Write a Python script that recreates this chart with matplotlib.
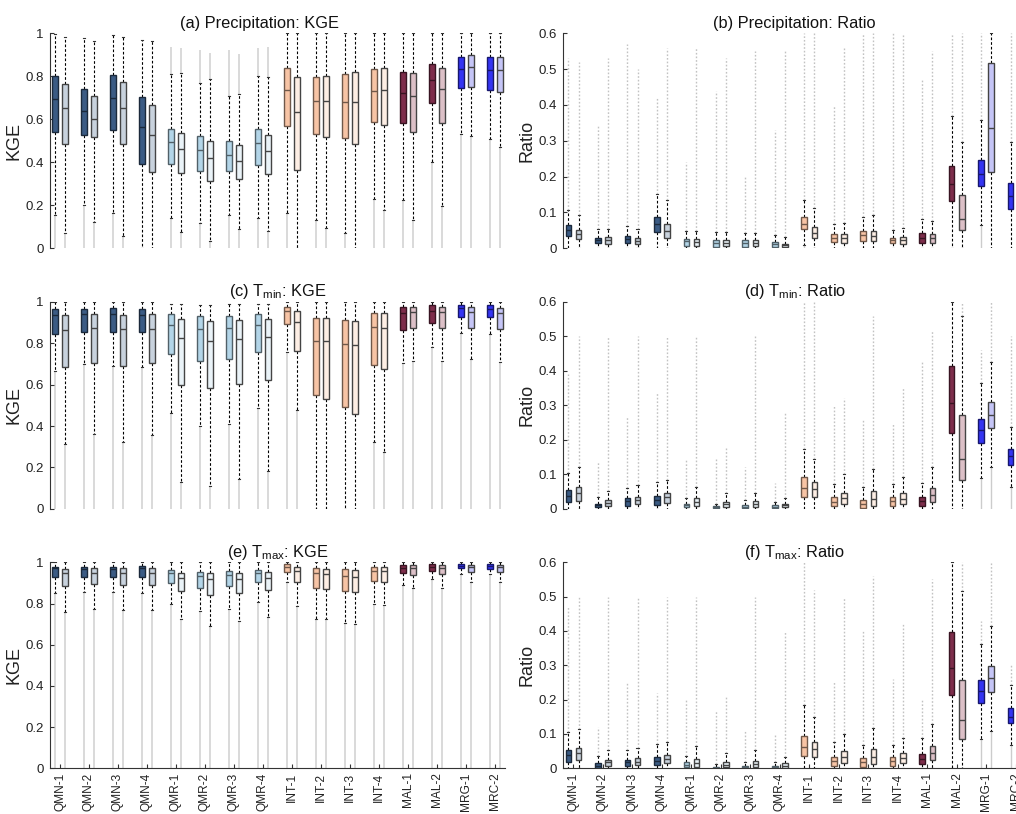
import matplotlib
matplotlib.use('Agg')
import matplotlib.pyplot as plt
from matplotlib import colors as mcolors

plt.rcParams['font.family'] = ['Liberation Sans', 'DejaVu Sans']
plt.rcParams['mathtext.fontset'] = 'custom'
plt.rcParams['mathtext.rm'] = 'Liberation Sans'
plt.rcParams['mathtext.it'] = 'Liberation Sans:italic'
plt.rcParams['mathtext.bf'] = 'Liberation Sans:bold'

METHODS = ['QMN-1', 'QMN-2', 'QMN-3', 'QMN-4', 'QMR-1', 'QMR-2', 'QMR-3', 'QMR-4',
           'INT-1', 'INT-2', 'INT-3', 'INT-4', 'MAL-1', 'MAL-2', 'MRG-1', 'MRC-2']

DARK_FILL = ['#3b5b84'] * 4 + ['#b3d5e8'] * 4 + ['#f7c4a5'] * 4 + ['#7d2d4b'] * 2 + ['#3434f2'] * 2
LIGHT_FILL = ['#c8d2dd'] * 4 + ['#eaf3f8'] * 4 + ['#fdeee4'] * 4 + ['#dcc0c7'] * 2 + ['#c5c5f6'] * 2

# Each list: 32 values, interleaved (dark box, light box) for each method
# ---------------- (a) Precipitation: KGE
A_Q1 = [0.543, 0.485, 0.527, 0.518, 0.549, 0.485, 0.391, 0.353, 0.392, 0.349, 0.360, 0.313,
        0.361, 0.322, 0.388, 0.347, 0.571, 0.363, 0.530, 0.516, 0.512, 0.484, 0.589, 0.575,
        0.581, 0.540, 0.676, 0.583, 0.747, 0.749, 0.736, 0.726]
A_MED = [0.693, 0.651, 0.639, 0.600, 0.698, 0.653, 0.563, 0.526, 0.493, 0.462, 0.456, 0.419,
         0.434, 0.408, 0.488, 0.453, 0.735, 0.633, 0.687, 0.685, 0.681, 0.679, 0.730, 0.735,
         0.721, 0.709, 0.781, 0.740, 0.833, 0.842, 0.829, 0.829]
A_Q3 = [0.800, 0.763, 0.740, 0.710, 0.806, 0.775, 0.705, 0.665, 0.557, 0.535, 0.522, 0.499,
        0.498, 0.481, 0.553, 0.527, 0.840, 0.795, 0.798, 0.803, 0.809, 0.819, 0.833, 0.840,
        0.819, 0.814, 0.859, 0.840, 0.890, 0.899, 0.890, 0.891]
A_WLO = [0.155, 0.070, 0.200, 0.124, 0.163, 0.057, 0.000, 0.000, 0.143, 0.078, 0.116, 0.034,
         0.155, 0.090, 0.140, 0.082, 0.163, 0.000, 0.132, 0.093, 0.070, 0.000, 0.229, 0.178,
         0.225, 0.130, 0.403, 0.197, 0.532, 0.521, 0.507, 0.473]
A_WHI = [0.995, 0.985, 0.977, 0.964, 0.990, 0.985, 0.967, 0.964, 0.809, 0.817, 0.767, 0.786,
         0.709, 0.718, 0.800, 0.795, 1.0, 1.0, 1.0, 1.0, 1.0, 1.0, 1.0, 1.0,
         1.0, 1.0, 1.0, 1.0, 1.0, 1.0, 1.0, 1.0]
A_OHI = [0.995, 0.985, 0.977, 0.964, 0.990, 0.985, 0.967, 0.964, 0.938, 0.930, 0.922, 0.907,
         0.922, 0.902, 0.930, 0.935, 1.0, 1.0, 1.0, 1.0, 1.0, 1.0, 1.0, 1.0,
         1.0, 1.0, 1.0, 1.0, 1.0, 1.0, 1.0, 1.0]

# ---------------- (b) Precipitation: Ratio
B_Q1 = [0.035, 0.025, 0.014, 0.012, 0.014, 0.012, 0.046, 0.028, 0.0065, 0.0074, 0.0047, 0.0065,
        0.005, 0.0065, 0.004, 0.003, 0.053, 0.028, 0.018, 0.016, 0.021, 0.020, 0.014, 0.011,
        0.016, 0.016, 0.133, 0.051, 0.175, 0.214, 0.109, 0.120]
B_MED = [0.051, 0.039, 0.023, 0.023, 0.026, 0.021, 0.068, 0.048, 0.019, 0.017, 0.014, 0.015,
         0.014, 0.016, 0.011, 0.008, 0.068, 0.042, 0.030, 0.030, 0.037, 0.034, 0.023, 0.023,
         0.030, 0.030, 0.179, 0.082, 0.207, 0.337, 0.146, 0.160]
B_Q3 = [0.064, 0.051, 0.030, 0.032, 0.034, 0.030, 0.087, 0.068, 0.026, 0.027, 0.023, 0.024,
        0.022, 0.024, 0.018, 0.013, 0.087, 0.059, 0.040, 0.040, 0.048, 0.048, 0.030, 0.031,
        0.044, 0.040, 0.230, 0.149, 0.247, 0.518, 0.183, 0.200]
B_WLO = [0.0, 0.0, 0.0, 0.0, 0.0, 0.0, 0.0, 0.0, 0.0, 0.0, 0.0, 0.0,
         0.0, 0.0, 0.0, 0.0, 0.009, 0.0, 0.0, 0.0, 0.0, 0.0, 0.0, 0.0,
         0.0, 0.0, 0.0, 0.0, 0.065, 0.0, 0.0, 0.0]
B_WHI = [0.107, 0.093, 0.053, 0.055, 0.063, 0.053, 0.152, 0.135, 0.049, 0.049, 0.045, 0.045,
         0.044, 0.043, 0.036, 0.031, 0.135, 0.112, 0.067, 0.070, 0.087, 0.093, 0.051, 0.056,
         0.081, 0.076, 0.369, 0.298, 0.358, 0.600, 0.296, 0.320]
B_OHI = [0.53, 0.52, 0.34, 0.53, 0.57, 0.50, 0.42, 0.56, 0.24, 0.56, 0.44, 0.53,
         0.20, 0.55, 0.33, 0.55, 0.60, 0.60, 0.40, 0.56, 0.60, 0.60, 0.60, 0.60,
         0.47, 0.55, 0.60, 0.60, 0.60, 0.60, 0.60, 0.60]

# ---------------- (c) Tmin: KGE
C_Q1 = [0.845, 0.684, 0.856, 0.706, 0.856, 0.689, 0.853, 0.703, 0.750, 0.597, 0.716, 0.584,
        0.723, 0.602, 0.758, 0.623, 0.892, 0.763, 0.548, 0.529, 0.494, 0.458, 0.695, 0.676,
        0.865, 0.873, 0.900, 0.876, 0.929, 0.876, 0.926, 0.868]
C_MED = [0.937, 0.865, 0.940, 0.873, 0.940, 0.868, 0.937, 0.869, 0.887, 0.827, 0.868, 0.810,
         0.873, 0.819, 0.887, 0.832, 0.958, 0.905, 0.813, 0.810, 0.795, 0.790, 0.877, 0.873,
         0.945, 0.950, 0.958, 0.953, 0.969, 0.950, 0.968, 0.945]
C_Q3 = [0.966, 0.937, 0.966, 0.940, 0.969, 0.937, 0.965, 0.940, 0.940, 0.916, 0.932, 0.908,
        0.932, 0.911, 0.940, 0.918, 0.977, 0.958, 0.921, 0.921, 0.911, 0.908, 0.948, 0.948,
        0.977, 0.977, 0.984, 0.977, 0.984, 0.977, 0.984, 0.969]
C_WLO = [0.666, 0.313, 0.700, 0.360, 0.690, 0.324, 0.687, 0.356, 0.465, 0.129, 0.400, 0.110,
         0.408, 0.142, 0.489, 0.182, 0.760, 0.477, 0.0, 0.0, 0.0, 0.0, 0.324, 0.276,
         0.703, 0.715, 0.780, 0.716, 0.852, 0.726, 0.844, 0.711]
C_WHI = [1.0, 1.0, 1.0, 1.0, 1.0, 1.0, 1.0, 1.0, 0.990, 0.990, 0.987, 0.987,
         0.990, 0.990, 0.990, 0.990, 1.0, 1.0, 1.0, 1.0, 1.0, 1.0, 1.0, 1.0,
         1.0, 1.0, 1.0, 1.0, 1.0, 1.0, 1.0, 1.0]
C_OHI = list(C_WHI)

# ---------------- (d) Tmin: Ratio
D_Q1 = [0.020, 0.023, 0.005, 0.008, 0.009, 0.0135, 0.011, 0.017, 0.004, 0.008, 0.001, 0.005,
        0.002, 0.006, 0.002, 0.004, 0.035, 0.033, 0.008, 0.0135, 0.003, 0.008, 0.008, 0.013,
        0.008, 0.019, 0.221, 0.083, 0.192, 0.233, 0.128, 0.140]
D_MED = [0.037, 0.045, 0.011, 0.017, 0.022, 0.025, 0.025, 0.033, 0.010, 0.019, 0.005, 0.013,
         0.006, 0.0135, 0.006, 0.010, 0.059, 0.056, 0.020, 0.030, 0.015, 0.029, 0.022, 0.029,
         0.022, 0.041, 0.306, 0.143, 0.228, 0.272, 0.152, 0.165]
D_Q3 = [0.054, 0.062, 0.015, 0.025, 0.030, 0.035, 0.038, 0.045, 0.015, 0.030, 0.008, 0.020,
        0.011, 0.023, 0.010, 0.015, 0.091, 0.077, 0.033, 0.047, 0.026, 0.050, 0.034, 0.046,
        0.034, 0.060, 0.415, 0.272, 0.259, 0.309, 0.172, 0.190]
D_WLO = [0.0, 0.0, 0.0, 0.0, 0.0, 0.0, 0.0, 0.0, 0.0, 0.0, 0.0, 0.0,
         0.0, 0.0, 0.0, 0.0, 0.0, 0.0, 0.0, 0.0, 0.0, 0.0, 0.0, 0.0,
         0.0, 0.0, 0.0, 0.0, 0.090, 0.121, 0.063, 0.070]
D_WHI = [0.105, 0.120, 0.033, 0.051, 0.059, 0.068, 0.078, 0.083, 0.030, 0.062, 0.015, 0.045,
         0.025, 0.046, 0.020, 0.032, 0.173, 0.143, 0.071, 0.100, 0.063, 0.114, 0.073, 0.092,
         0.075, 0.121, 0.600, 0.560, 0.364, 0.427, 0.238, 0.260]
D_OHI = [0.39, 0.50, 0.135, 0.50, 0.27, 0.50, 0.34, 0.50, 0.145, 0.50, 0.145, 0.18,
         0.12, 0.50, 0.075, 0.28, 0.60, 0.60, 0.30, 0.32, 0.26, 0.56, 0.25, 0.35,
         0.43, 0.52, 0.60, 0.60, 0.46, 0.60, 0.50, 0.50]

# ---------------- (e) Tmax: KGE
E_Q1 = [0.927, 0.885, 0.930, 0.893, 0.930, 0.890, 0.930, 0.890, 0.898, 0.861, 0.877, 0.841,
        0.885, 0.853, 0.903, 0.866, 0.951, 0.903, 0.874, 0.871, 0.861, 0.854, 0.909, 0.903,
        0.947, 0.939, 0.958, 0.942, 0.971, 0.951, 0.968, 0.951]
E_MED = [0.971, 0.947, 0.966, 0.947, 0.966, 0.947, 0.971, 0.947, 0.947, 0.922, 0.934, 0.917,
         0.939, 0.917, 0.950, 0.926, 0.979, 0.958, 0.947, 0.943, 0.934, 0.927, 0.960, 0.958,
         0.974, 0.971, 0.979, 0.971, 0.984, 0.976, 0.984, 0.976]
E_Q3 = [0.979, 0.966, 0.979, 0.971, 0.979, 0.971, 0.982, 0.971, 0.963, 0.950, 0.955, 0.947,
        0.960, 0.950, 0.963, 0.951, 0.990, 0.979, 0.971, 0.968, 0.966, 0.963, 0.979, 0.979,
        0.987, 0.987, 0.990, 0.987, 0.992, 0.987, 0.992, 0.987]
E_WLO = [0.853, 0.760, 0.858, 0.772, 0.858, 0.769, 0.853, 0.769, 0.800, 0.723, 0.765, 0.691,
         0.772, 0.715, 0.809, 0.736, 0.906, 0.788, 0.727, 0.727, 0.704, 0.700, 0.800, 0.791,
         0.890, 0.874, 0.917, 0.874, 0.943, 0.906, 0.943, 0.906]
E_WHI = [1.0] * 32
E_OHI = [1.0] * 32

# ---------------- (f) Tmax: Ratio
F_Q1 = [0.019, 0.024, 0.000, 0.007, 0.007, 0.010, 0.010, 0.015, 0.003, 0.005, 0.000, 0.003,
        0.000, 0.003, 0.000, 0.002, 0.036, 0.032, 0.007, 0.015, 0.003, 0.012, 0.008, 0.015,
        0.012, 0.024, 0.213, 0.084, 0.189, 0.222, 0.131, 0.140]
F_MED = [0.039, 0.044, 0.008, 0.017, 0.017, 0.019, 0.022, 0.028, 0.010, 0.015, 0.002, 0.010,
         0.004, 0.012, 0.003, 0.008, 0.061, 0.055, 0.022, 0.032, 0.017, 0.034, 0.021, 0.031,
         0.027, 0.046, 0.291, 0.140, 0.225, 0.262, 0.150, 0.165]
F_Q3 = [0.053, 0.060, 0.015, 0.024, 0.024, 0.030, 0.032, 0.039, 0.017, 0.028, 0.005, 0.017,
        0.008, 0.020, 0.007, 0.015, 0.094, 0.078, 0.034, 0.049, 0.029, 0.055, 0.032, 0.044,
        0.041, 0.066, 0.398, 0.257, 0.257, 0.299, 0.175, 0.190]
F_WLO = [0.0, 0.0, 0.0, 0.0, 0.0, 0.0, 0.0, 0.0, 0.0, 0.0, 0.0, 0.0,
         0.0, 0.0, 0.0, 0.0, 0.0, 0.0, 0.0, 0.0, 0.0, 0.0, 0.0, 0.0,
         0.0, 0.0, 0.0, 0.0, 0.085, 0.109, 0.068, 0.070]
F_WHI = [0.105, 0.115, 0.037, 0.053, 0.053, 0.060, 0.070, 0.078, 0.037, 0.066, 0.012, 0.044,
         0.019, 0.053, 0.019, 0.034, 0.183, 0.149, 0.078, 0.099, 0.068, 0.118, 0.068, 0.087,
         0.087, 0.129, 0.600, 0.516, 0.361, 0.415, 0.243, 0.260]
F_OHI = [0.47, 0.50, 0.12, 0.50, 0.25, 0.50, 0.22, 0.50, 0.20, 0.50, 0.17, 0.21,
         0.11, 0.50, 0.10, 0.40, 0.60, 0.52, 0.25, 0.50, 0.40, 0.56, 0.26, 0.42,
         0.20, 0.55, 0.60, 0.60, 0.43, 0.60, 0.30, 0.40]

KGE_TICKS = [0, 0.2, 0.4, 0.6, 0.8, 1]
KGE_TICKLABELS = ['0', '0.2', '0.4', '0.6', '0.8', '1']
RATIO_TICKS = [0, 0.1, 0.2, 0.3, 0.4, 0.5, 0.6]
RATIO_TICKLABELS = ['0', '0.1', '0.2', '0.3', '0.4', '0.5', '0.6']

PANELS = [
    ('(a) Precipitation: KGE', A_Q1, A_MED, A_Q3, A_WLO, A_WHI, A_OHI, 'KGE'),
    ('(b) Precipitation: Ratio', B_Q1, B_MED, B_Q3, B_WLO, B_WHI, B_OHI, 'Ratio'),
    (r'(c) T$_{\mathrm{min}}$: KGE', C_Q1, C_MED, C_Q3, C_WLO, C_WHI, C_OHI, 'KGE'),
    (r'(d) T$_{\mathrm{min}}$: Ratio', D_Q1, D_MED, D_Q3, D_WLO, D_WHI, D_OHI, 'Ratio'),
    (r'(e) T$_{\mathrm{max}}$: KGE', E_Q1, E_MED, E_Q3, E_WLO, E_WHI, E_OHI, 'KGE'),
    (r'(f) T$_{\mathrm{max}}$: Ratio', F_Q1, F_MED, F_Q3, F_WLO, F_WHI, F_OHI, 'Ratio'),
]

W, H = 1016, 814
fig = plt.figure(figsize=(W / 100, H / 100), dpi=100)

ROWS = [(33.3, 248.3), (302.0, 508.7), (562.3, 768.3)]
COLS = [(50.0, 505.0), (563.3, 1026.0)]
TITLE_X = [0.4615, 0.5, 0.5, 0.5, 0.5, 0.5]

OFF = 0.172
BW = 0.19


def darken(c, f):
    r, g, b = mcolors.to_rgb(c)
    return (r * f, g * f, b * f)


for k, (title, q1, med, q3, wlo, whi, ohi, ylab) in enumerate(PANELS):
    r, c = divmod(k, 2)
    top, bot = ROWS[r]
    x0, x1 = COLS[c]
    ax = fig.add_axes([x0 / W, 1 - bot / H, (x1 - x0) / W, (bot - top) / H])
    is_ratio = (ylab == 'Ratio')
    pos = []
    for g in range(len(METHODS)):
        pos += [g + 1 - OFF, g + 1 + OFF]

    # outlier traces (dense outliers shown as grey vertical traces)
    up_x = [p for p, a, b in zip(pos, whi, ohi) if b > a]
    up_lo = [a for a, b in zip(whi, ohi) if b > a]
    up_hi = [b for a, b in zip(whi, ohi) if b > a]
    dn_x = [p for p, a in zip(pos, wlo) if a > 0]
    dn_hi = [a for a in wlo if a > 0]
    if is_ratio:
        ax.vlines(up_x, up_lo, up_hi, colors='#c2c2c2', linewidth=1.0,
                  linestyles=(0, (1.2, 1.4)), zorder=1)
        ax.vlines(dn_x, [0] * len(dn_x), dn_hi, colors='#cccccc', linewidth=1.0, zorder=1)
    else:
        ax.vlines(up_x, up_lo, up_hi, colors='#d0d0d0', linewidth=1.1, zorder=1)
        ax.vlines(dn_x, [0] * len(dn_x), dn_hi, colors='#d0d0d0', linewidth=1.1, zorder=1)

    stats = [dict(q1=a, med=m, q3=b, whislo=l, whishi=h, fliers=[])
             for a, m, b, l, h in zip(q1, med, q3, wlo, whi)]
    bp = ax.bxp(stats, positions=pos, widths=BW, patch_artist=True, showfliers=False,
                capwidths=0.07, manage_ticks=False,
                whiskerprops=dict(color='black', linewidth=0.8, linestyle=(0, (2.4, 1.8))),
                capprops=dict(color='#333333', linewidth=0.8),
                medianprops=dict(color='#222222', linewidth=1.0),
                boxprops=dict(linewidth=1.0))
    for i, box in enumerate(bp['boxes']):
        g = i // 2
        if i % 2 == 0:
            fc = DARK_FILL[g]
            ec = darken(fc, 0.45)
        else:
            fc = LIGHT_FILL[g]
            ec = '#444444'
        box.set_facecolor(fc)
        box.set_edgecolor(ec)
        box.set_zorder(3)
        bp['medians'][i].set_color(ec)
        bp['medians'][i].set_zorder(4)
    for w in bp['whiskers']:
        w.set_zorder(2)

    ax.set_xlim(0.655, 16.35)
    if is_ratio:
        ax.set_ylim(0, 0.6)
        ax.set_yticks(RATIO_TICKS)
        ax.set_yticklabels(RATIO_TICKLABELS)
    else:
        ax.set_ylim(0, 1)
        ax.set_yticks(KGE_TICKS)
        ax.set_yticklabels(KGE_TICKLABELS)

    for s in ['top', 'right']:
        ax.spines[s].set_visible(False)
    ax.spines['left'].set_color('#333333')
    ax.spines['left'].set_linewidth(0.8)
    ax.tick_params(axis='y', direction='in', length=3, width=0.8, labelsize=9.5,
                   pad=4.5, colors='#333333', labelcolor='#222222')
    if r < 2:
        ax.spines['bottom'].set_visible(False)
        ax.set_xticks([])
    else:
        ax.spines['bottom'].set_color('#333333')
        ax.spines['bottom'].set_linewidth(0.8)
        ax.set_xticks(range(1, len(METHODS) + 1))
        ax.set_xticklabels(METHODS, rotation=90)
        ax.tick_params(axis='x', direction='in', length=3, width=0.8, labelsize=8.6,
                       pad=3, colors='#333333', labelcolor='#222222')

    ax.set_ylabel(ylab, fontsize=13, labelpad=2, color='#222222')
    ax.set_title(title, fontsize=11.8, x=TITLE_X[k], pad=4, color='#111111')

fig.savefig('out.png', dpi=100)
